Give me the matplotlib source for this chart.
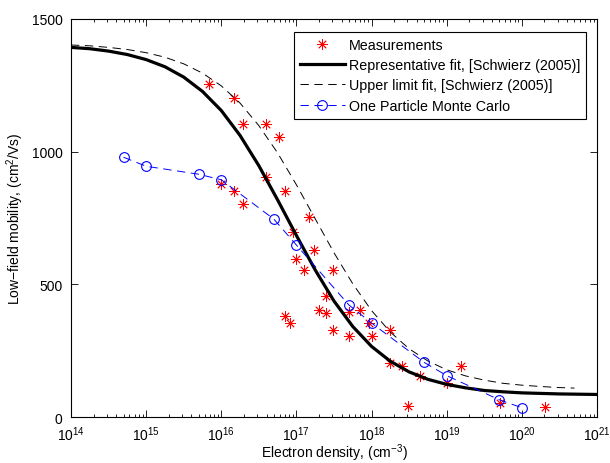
import numpy as np
import matplotlib
matplotlib.use("Agg")
import matplotlib.pyplot as plt

plt.rcParams['font.family'] = ['Liberation Sans', 'DejaVu Sans']
plt.rcParams['mathtext.fontset'] = 'custom'
plt.rcParams['mathtext.rm'] = 'Liberation Sans'
plt.rcParams['mathtext.it'] = 'Liberation Sans:italic'
plt.rcParams['lines.scale_dashes'] = False

# Measurements (log10 of density, mobility)
meas_logn = [15.84, 16.17, 16.29, 16.60, 16.77, 16.60, 16.85, 15.99, 16.17, 16.29,
             17.17, 16.95, 17.23, 17.00, 17.10, 17.48, 17.40, 17.30, 17.40, 16.85,
             16.91, 17.48, 17.70, 17.85, 17.70, 18.00, 17.97, 18.25, 18.25, 18.40,
             18.64, 19.01, 19.19, 18.48, 19.71, 20.31]
meas_mu = [1255, 1202, 1104, 1104, 1054, 903, 853, 878, 853, 803,
           755, 696, 629, 596, 554, 554, 455, 404, 392, 380,
           353, 329, 395, 405, 304, 304, 354, 329, 204, 193,
           156, 130, 193, 40, 53, 38]

# Representative fit
rep_logn = [14.0, 14.25, 14.5, 14.75, 15.0, 15.25, 15.5, 15.75, 16.0, 16.25,
            16.5, 16.75, 17.0, 17.25, 17.5, 17.75, 18.0, 18.25, 18.5, 18.75,
            19.0, 19.25, 19.5, 19.75, 20.0, 20.5, 21.0]
rep_mu = [1393, 1388, 1379, 1366, 1347, 1320, 1281, 1227, 1155, 1061,
          947, 818, 684, 554, 437, 341, 266, 210, 170, 142,
          123, 110, 100, 95, 91, 87, 85]

# Upper limit fit
upp_logn = [14.0, 14.25, 14.5, 14.75, 15.0, 15.25, 15.5, 15.75, 16.0, 16.25,
            16.5, 16.75, 17.0, 17.25, 17.5, 17.75, 18.0, 18.25, 18.5, 18.75,
            19.0, 19.25, 19.5, 19.75, 20.0, 20.25, 20.5, 20.7]
upp_mu = [1402, 1399, 1393, 1385, 1373, 1356, 1331, 1296, 1248, 1183,
          1098, 995, 875, 747, 619, 502, 401, 320, 257, 211,
          178, 155, 139, 127, 120, 115, 111, 109]

# One particle Monte Carlo
mc_n = [5e14, 1e15, 5e15, 1e16, 5e16, 1e17, 5e17, 1e18, 5e18, 1e19, 5e19, 1e20]
mc_mu = [979, 945, 915, 894, 746, 648, 422, 354, 206, 156, 65, 35]

fig = plt.figure(figsize=(6.1, 4.64), dpi=100)
ax = fig.add_axes([0.1164, 0.0991, 0.8623, 0.8578])

ax.plot(10.0 ** np.array(meas_logn), meas_mu, linestyle='none',
        marker=(8, 2, 0), markersize=7.5, markeredgewidth=0.6,
        color='#ff0000', label='Measurements')
ax.plot(10.0 ** np.array(rep_logn), rep_mu, color='black', linewidth=2.3,
        label='Representative fit, [Schwierz (2005)]')
ax.plot(10.0 ** np.array(upp_logn), upp_mu, color='black', linewidth=0.7,
        dashes=(6, 4), label='Upper limit fit, [Schwierz (2005)]')
ax.plot(mc_n, mc_mu, color='#0000ff', linewidth=0.7, dashes=(6, 4),
        marker='o', markersize=7, markerfacecolor='none',
        markeredgewidth=0.8, label='One Particle Monte Carlo')

ax.set_xscale('log')
ax.set_xlim(1e14, 1e21)
ax.set_ylim(0, 1500)
ax.set_yticks([0, 500, 1000, 1500])
ax.set_xticks([10.0 ** k for k in range(14, 22)])
ax.set_xticklabels([r'$10^{%d}$' % k for k in range(14, 22)])
ax.tick_params(which='both', direction='in', top=True, right=True,
               labelsize=10, width=0.6)
ax.tick_params(axis='y', pad=6)
ax.tick_params(axis='x', pad=5)
ax.tick_params(which='major', length=5)
ax.tick_params(which='minor', length=2.5)
for s in ax.spines.values():
    s.set_linewidth(0.8)

ax.set_xlabel('Electron density, (cm$^{-3}$)', fontsize=10, labelpad=-1)
ax.set_ylabel('Low\u2212field mobility, (cm$^{2}$/Vs)', fontsize=10, labelpad=4)

leg = ax.legend(loc='upper right', bbox_to_anchor=(0.979, 0.968),
                fontsize=10.3, numpoints=1, handlelength=3.1, handletextpad=0.28,
                labelspacing=0.44, borderpad=0.42, borderaxespad=0,
                fancybox=False, framealpha=1, edgecolor='black')
leg.get_frame().set_linewidth(0.8)

fig.savefig('out.png', dpi=100)
